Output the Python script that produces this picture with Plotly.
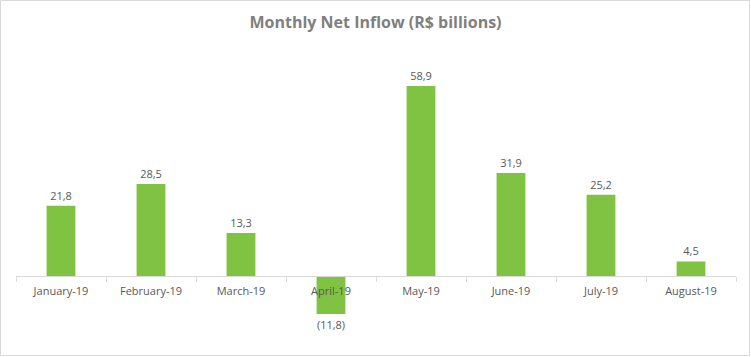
import plotly.graph_objects as go

months = ["January-19", "February-19", "March-19", "April-19", "May-19", "June-19", "July-19", "August-19"]
net_inflow = [21.8, 28.5, 13.3, -11.8, 58.9, 31.9, 25.2, 4.5]

def fmt(v):
    s = f"{abs(v):.1f}".replace(".", ",")
    return f"({s})" if v < 0 else s

labels = [fmt(v) for v in net_inflow]

W, H = 751, 357
L, R = 16, 15
T, B = 70, 12
plot_h = H - T - B
zero_px = 276
upper = (zero_px - T) / 3.226
lower = -(H - B - zero_px) / 3.226
zero_frac = (H - B - zero_px) / plot_h

fig = go.Figure(go.Bar(
    x=months, y=net_inflow, text=labels, textposition="outside",
    textfont=dict(family="Open Sans", size=11, color="#595959"),
    marker=dict(color="#80C242", line=dict(width=0)),
    width=0.32, cliponaxis=False, constraintext="none", hoverinfo="skip",
))

fig.update_layout(
    width=W, height=H,
    margin=dict(l=L, r=R, t=T, b=B),
    paper_bgcolor="white", plot_bgcolor="white",
    showlegend=False,
    title=dict(text="<b>Monthly Net Inflow (R$ billions)</b>", x=0.5, xanchor="center",
               y=1 - 22 / H, yanchor="middle", yref="container",
               font=dict(family="Open Sans", size=16, color="#7F7F7F")),
    xaxis=dict(anchor="free", position=zero_frac, showline=True, linecolor="#D9D9D9", linewidth=1,
               ticks="outside", tickson="boundaries", ticklen=5, tickcolor="#D9D9D9",
               ticklabelstandoff=5,
               showgrid=False, zeroline=False,
               tickfont=dict(family="Open Sans", size=11, color="#595959")),
    yaxis=dict(range=[lower, upper], visible=False, showgrid=False, zeroline=False),
    shapes=[dict(type="rect", xref="paper", yref="paper",
                 x0=(0.5 - L) / (W - L - R), x1=(W - 1.5 - L) / (W - L - R),
                 y0=-(B - 1.5) / plot_h, y1=1 + (T - 0.5) / plot_h,
                 line=dict(color="#D9D9D9", width=1), fillcolor="rgba(0,0,0,0)")],
)

fig.write_html("out.html", config={"displayModeBar": False},
               post_script="document.body.style.margin='0';")
